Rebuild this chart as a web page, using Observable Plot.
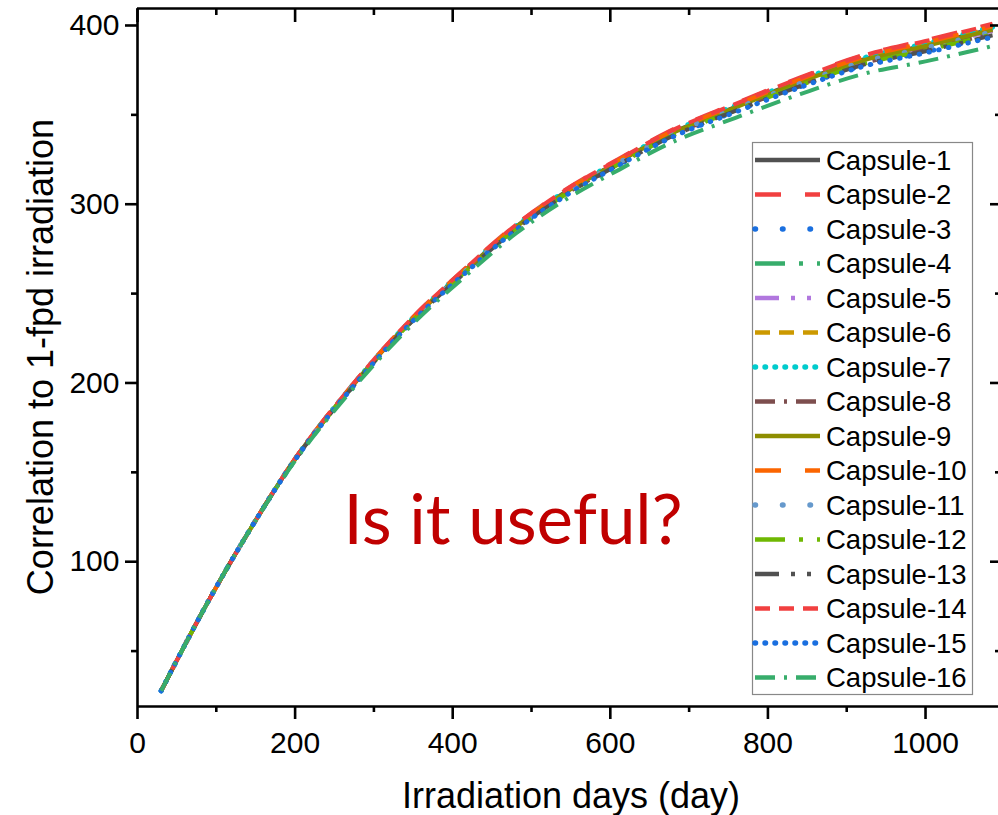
<!DOCTYPE html>
<html><head><meta charset="utf-8">
<script src="https://cdn.jsdelivr.net/npm/d3@7"></script>
<script src="https://cdn.jsdelivr.net/npm/@observablehq/plot@0.6"></script>
<style>
html,body{margin:0;padding:0;background:#fff;}
#chart{position:relative;width:998px;height:815px;overflow:hidden;}
svg{display:block;}
</style></head><body><div id="chart"></div>
<script>
// ---- data ----
const days = [30, 92, 146, 199, 267, 350, 413, 481, 544, 612, 675, 758, 841, 920, 1000, 1085];
const capsuleNames = ["Capsule-1","Capsule-2","Capsule-3","Capsule-4","Capsule-5","Capsule-6","Capsule-7","Capsule-8",
  "Capsule-9","Capsule-10","Capsule-11","Capsule-12","Capsule-13","Capsule-14","Capsule-15","Capsule-16"];
const capsule1  = [27.8, 79.6, 120.3, 156.8, 195.4, 236.2, 262.0, 287.7, 307.1, 324.2, 339.3, 354.4, 368.8, 380.9, 389.0, 398.0];
const capsule2  = [27.8, 79.6, 120.3, 157.1, 196.0, 237.1, 263.0, 288.9, 308.4, 325.7, 340.9, 356.3, 371.0, 383.4, 391.8, 401.0];
const capsule3  = [27.8, 79.6, 120.3, 156.4, 194.6, 235.0, 260.6, 286.1, 305.3, 322.2, 337.1, 351.8, 365.8, 377.5, 385.2, 394.0];
const capsule4  = [27.8, 79.6, 120.3, 156.6, 195.0, 235.6, 261.3, 286.9, 306.2, 323.2, 338.2, 353.1, 367.3, 379.2, 387.1, 396.0];
const capsule5  = [27.8, 79.6, 120.3, 156.7, 195.2, 235.9, 261.6, 287.3, 306.6, 323.7, 338.7, 353.7, 368.0, 380.0, 388.0, 397.0];
const capsule6  = [27.8, 79.6, 120.3, 156.9, 195.5, 236.4, 262.1, 287.9, 307.3, 324.5, 339.5, 354.7, 369.1, 381.3, 389.4, 398.5];
const capsule7  = [27.8, 79.6, 120.3, 156.9, 195.6, 236.5, 262.3, 288.1, 307.5, 324.7, 339.8, 355.0, 369.5, 381.7, 389.9, 399.0];
const capsule8  = [27.8, 79.6, 120.3, 156.6, 194.9, 235.5, 261.1, 286.7, 305.9, 323.0, 337.9, 352.7, 366.9, 378.7, 386.6, 395.5];
const capsule9  = [27.8, 79.6, 120.3, 156.8, 195.3, 236.1, 261.8, 287.5, 306.8, 324.0, 339.0, 354.0, 368.4, 380.4, 388.5, 397.5];
const capsule10 = [27.8, 79.6, 120.3, 157.0, 195.7, 236.7, 262.5, 288.3, 307.7, 325.0, 340.1, 355.3, 369.9, 382.1, 390.4, 399.5];
const capsule11 = [27.8, 79.6, 120.3, 156.7, 195.1, 235.8, 261.4, 287.1, 306.4, 323.5, 338.4, 353.4, 367.6, 379.6, 387.5, 396.5];
const capsule12 = [27.8, 79.6, 120.3, 156.5, 194.8, 235.3, 260.9, 286.5, 305.7, 322.7, 337.6, 352.4, 366.5, 378.3, 386.1, 395.0];
const capsule13 = [27.8, 79.6, 120.3, 156.5, 194.7, 235.2, 260.7, 286.3, 305.5, 322.5, 337.3, 352.1, 366.1, 377.9, 385.6, 394.5];
const capsule14 = [27.8, 79.6, 120.3, 157.1, 195.9, 237.0, 262.8, 288.7, 308.2, 325.5, 340.6, 356.0, 370.6, 383.0, 391.3, 400.5];
const capsule15 = [27.8, 79.6, 120.3, 156.4, 194.5, 234.9, 260.4, 285.9, 305.0, 322.0, 336.8, 351.4, 365.4, 377.0, 384.7, 393.5];
const capsule16 = [27.8, 79.6, 120.3, 155.9, 193.5, 233.3, 258.6, 283.9, 302.8, 319.5, 334.0, 348.2, 361.6, 372.8, 379.9, 388.5];
const capsuleValues = [capsule1, capsule2, capsule3, capsule4, capsule5, capsule6, capsule7, capsule8,
  capsule9, capsule10, capsule11, capsule12, capsule13, capsule14, capsule15, capsule16];

const xMajorTicks = [0, 200, 400, 600, 800, 1000];
const xMinorTicks = [100, 300, 500, 700, 900];
const yMajorTicks = [100, 200, 300, 400];
const yMinorTicks = [50, 150, 250, 350];
const xTitle = "Irradiation days (day)";
const yTitle = "Correlation to 1-fpd irradiation";
const noteText = "Is it useful?";

// ---- styles ----
const colors = ["#515151","#F14040","#1A6FDF","#37AD6B","#B177DE","#CC9900","#00CBCC","#7D4E4E",
  "#8E8E00","#FB6501","#6699CC","#6FB802","#515151","#F14040","#1A6FDF","#37AD6B"];
const dashes = [null, "26 24", "0.5 27", "30 14 4 14", "24 12 4 12 4 12", "15 9", "0.5 9.5", "20 9 3 9",
  null, "26 24", "0.5 27", "30 14 4 14", "24 12 4 12 4 12", "15 9", "0.5 9.5", "20 9 3 9"];
const caps = dashes.map(d => d && d.startsWith("0.5") ? "round" : "butt");
const widths = dashes.map(d => d && d.startsWith("0.5") ? 5 : 4);

const rows = capsuleNames.flatMap((name, i) => days.map((d, j) => ({name, day: d, value: capsuleValues[i][j]})));

const xDomain = [0, 1092.6];
const yDomain = [19, 409.5];
const font = "'Liberation Sans', Arial, sans-serif";
const axisW = 2.6;
const fmt = d => String(d);

const chart = Plot.plot({
  width: 998, height: 815,
  marginLeft: 137, marginTop: 8, marginRight: 0, marginBottom: 109,
  style: {fontFamily: font, fontSize: "30px", color: "#000", background: "#fff"},
  x: {domain: xDomain},
  y: {domain: yDomain},
  marks: [
    ...capsuleNames.map((name, i) => Plot.line(rows.filter(r => r.name === name), {
      x: "day", y: "value", stroke: colors[i], strokeWidth: widths[i],
      strokeDasharray: dashes[i], strokeLinecap: caps[i], curve: "monotone-x"
    })),
    Plot.ruleY([yDomain[0]], {strokeWidth: axisW, stroke: "#000"}),
    Plot.ruleY([yDomain[1]], {strokeWidth: axisW, stroke: "#000"}),
    Plot.ruleX([xDomain[0]], {strokeWidth: axisW, stroke: "#000"}),
    Plot.axisX(xMajorTicks, {anchor: "bottom", tickSize: 13, tickPadding: 12, fontSize: 30, tickFormat: fmt, strokeWidth: axisW, label: null}),
    Plot.axisX(xMinorTicks, {anchor: "bottom", tickSize: 6, tickFormat: () => "", strokeWidth: axisW, label: null}),
    Plot.axisX(xMajorTicks, {anchor: "top", tickSize: -13, tickFormat: () => "", strokeWidth: axisW, label: null}),
    Plot.axisX(xMinorTicks, {anchor: "top", tickSize: -6, tickFormat: () => "", strokeWidth: axisW, label: null}),
    Plot.axisY(yMajorTicks, {anchor: "left", tickSize: 12, tickPadding: 6, fontSize: 30, tickFormat: fmt, strokeWidth: axisW, label: null}),
    Plot.axisY(yMinorTicks, {anchor: "left", tickSize: 6, tickFormat: () => "", strokeWidth: axisW, label: null}),
    Plot.axisY(yMajorTicks, {anchor: "right", tickSize: -9, tickFormat: () => "", strokeWidth: axisW, label: null}),
    Plot.axisY(yMinorTicks, {anchor: "right", tickSize: -4, tickFormat: () => "", strokeWidth: axisW, label: null})
  ]
});
document.getElementById("chart").appendChild(chart);

const svg = d3.select(chart);
// axis titles
svg.append("text").attr("x", 571).attr("y", 808).attr("text-anchor", "middle")
  .attr("font-family", font).attr("font-size", 36).attr("fill", "#000").text(xTitle);
svg.append("text").attr("transform", "translate(53,357) rotate(-90)").attr("text-anchor", "middle")
  .attr("font-family", font).attr("font-size", 36).attr("fill", "#000").text(yTitle);

// annotation
svg.append("text").attr("x", 513).attr("y", 544).attr("text-anchor", "middle")
  .attr("font-family", "Lato, 'Open Sans', sans-serif").attr("font-size", 69).attr("fill", "#C00000").text(noteText);

// legend
const lg = svg.append("g");
lg.append("rect").attr("x", 752.5).attr("y", 142.5).attr("width", 220).attr("height", 552)
  .attr("fill", "#fff").attr("stroke", "#888").attr("stroke-width", 1.2);
capsuleNames.forEach((name, i) => {
  const cy = 160 + i * 34.5;
  lg.append("line").attr("x1", 755).attr("x2", 820).attr("y1", cy).attr("y2", cy)
    .attr("stroke", colors[i]).attr("stroke-width", widths[i] + 0.5)
    .attr("stroke-dasharray", dashes[i]).attr("stroke-linecap", caps[i]);
  lg.append("text").attr("x", 826).attr("y", cy).attr("dy", "0.36em").attr("text-anchor", "start")
    .attr("font-family", font).attr("font-size", 27.5).attr("fill", "#000").text(name);
});
</script></body></html>
